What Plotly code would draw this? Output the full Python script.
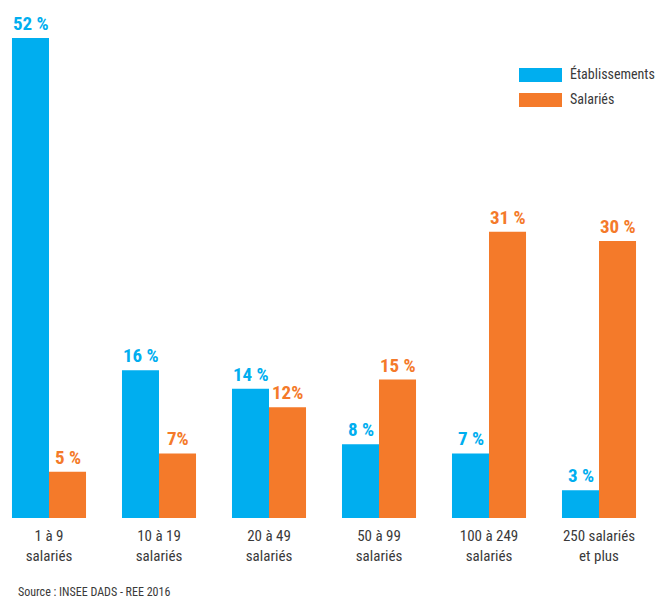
import plotly.graph_objects as go

categories = ["1 à 9<br>salariés", "10 à 19<br>salariés", "20 à 49<br>salariés",
              "50 à 99<br>salariés", "100 à 249<br>salariés", "250 salariés<br>et plus"]
etablissements = [52, 16, 14, 8, 7, 3]
salaries = [5, 7, 12, 15, 31, 30]
etab_labels = ["52 %", "16 %", "14 %", "8 %", "7 %", "3 %"]
sal_labels = ["5 %", "7%", "12%", "15 %", "31 %", "30 %"]
series_names = ["Établissements", "Salariés"]

BLUE = "#00AEEF"
ORANGE = "#F47A2A"
TEXT = "#3a3a3a"
FONT = "Roboto Condensed, DejaVu Sans Condensed, sans-serif"

# page body has an 8px margin; figure sized to fit the window
W, H = 656, 591
ML, MR, MT, MB = 0, 10, 0, 81
PW, PH = W - ML - MR, H - MT - MB

fig = go.Figure()
fig.add_trace(go.Bar(name=series_names[0], x=list(range(len(categories))), y=etablissements,
                     marker=dict(color=BLUE, line=dict(width=0)), showlegend=False))
fig.add_trace(go.Bar(name=series_names[1], x=list(range(len(categories))), y=salaries,
                     marker=dict(color=ORANGE, line=dict(width=0)), showlegend=False))

annotations = []
for i, (v, t) in enumerate(zip(etablissements, etab_labels)):
    annotations.append(dict(x=i, y=v, xref="x", yref="y", text=t, showarrow=False,
                            xshift=-18.5, yshift=1, yanchor="bottom",
                            font=dict(family=FONT, size=19, color=BLUE, weight="bold")))
for i, (v, t) in enumerate(zip(salaries, sal_labels)):
    annotations.append(dict(x=i, y=v, xref="x", yref="y", text=t, showarrow=False,
                            xshift=18.5, yshift=1, yanchor="bottom",
                            font=dict(family=FONT, size=19, color=ORANGE, weight="bold")))
annotations.append(dict(x=8 / PW, y=-(584 - PH) / PH, xref="paper", yref="paper",
                        text="Source : INSEE DADS - REE 2016", showarrow=False,
                        xanchor="left", yanchor="middle",
                        font=dict(family=FONT, size=12, color=TEXT)))

# custom legend (wide swatches as in the original)
shapes = []
for k, (name, col) in enumerate(zip(series_names, [BLUE, ORANGE])):
    top = 60 + 25 * k
    shapes.append(dict(type="rect", xref="paper", yref="paper",
                       x0=511 / PW, x1=554 / PW, y0=1 - (top + 14) / PH, y1=1 - top / PH,
                       fillcolor=col, line=dict(width=0)))
    annotations.append(dict(x=560 / PW, y=1 - (top + 6) / PH, xref="paper", yref="paper",
                            text=name, showarrow=False, xanchor="left", yanchor="middle",
                            font=dict(family=FONT, size=14, color=TEXT)))

fig.update_layout(
    width=W, height=H,
    margin=dict(l=ML, r=MR, t=MT, b=MB, autoexpand=False),
    paper_bgcolor="white", plot_bgcolor="white",
    barmode="group", bargap=0.327, bargroupgap=0,
    font=dict(family=FONT, size=15, color=TEXT),
    xaxis=dict(range=[-41 / 110, -41 / 110 + PW / 110], tickmode="array",
               tickvals=list(range(len(categories))), ticktext=categories,
               showgrid=False, zeroline=False, showline=False, ticks="",
               ticklabelstandoff=7,
               tickfont=dict(family=FONT, size=15, color=TEXT)),
    yaxis=dict(range=[0, PH / 9.23], visible=False, showgrid=False),
    annotations=annotations,
    shapes=shapes,
    showlegend=False,
)

fig.write_html("out.html")
